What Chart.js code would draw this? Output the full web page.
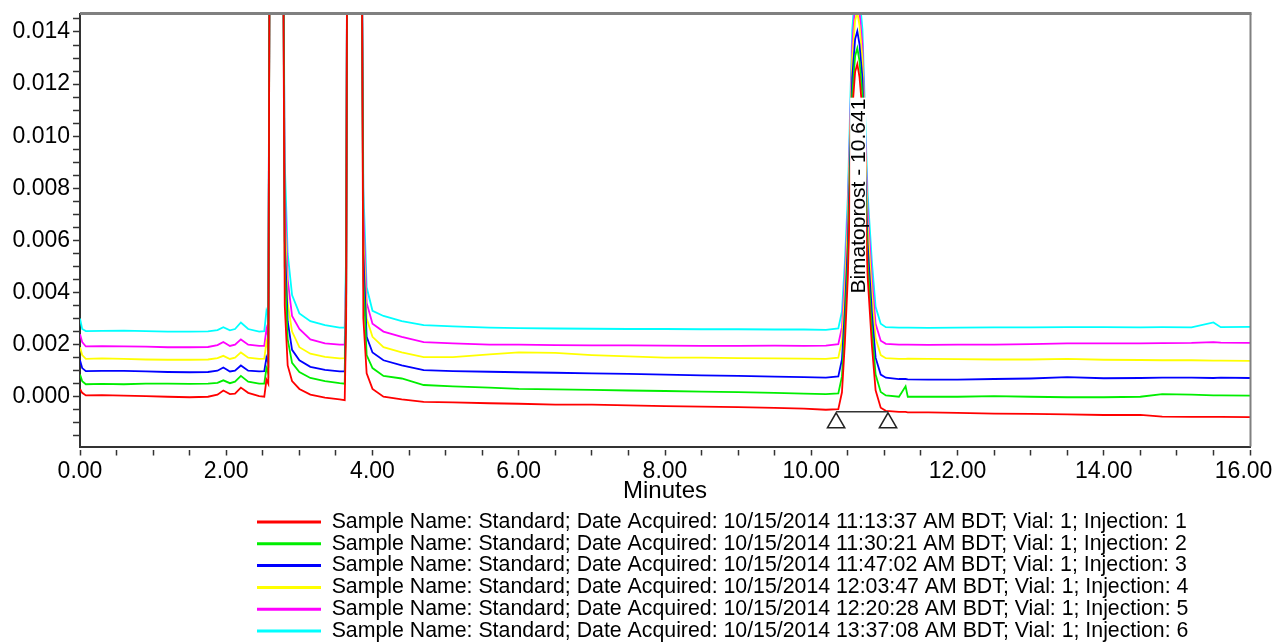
<!DOCTYPE html>
<html><head><meta charset="utf-8">
<script src="https://cdn.jsdelivr.net/npm/chart.js@4.4.1/dist/chart.umd.min.js"></script>
<style>html,body{margin:0;padding:0;background:#fff;}canvas{display:block;}</style>
</head><body>
<canvas id="c" width="1276" height="642"></canvas>
<script>
// ---------- data ----------
const times = [0.00,0.03,0.08,0.30,0.60,0.90,1.20,1.50,1.75,1.88,1.96,2.05,2.12,2.20,2.30,2.45,2.52,2.55,2.575,2.595,2.68,2.775,2.80,2.84,2.90,3.00,3.15,3.35,3.55,3.62,3.64,3.655,3.75,3.85,3.875,3.92,4.00,4.15,4.40,4.70,5.10,5.60,6.00,6.50,7.00,7.50,8.00,8.50,9.00,9.50,9.90,10.20,10.37,10.42,10.46,10.50,10.56,10.60,10.63,10.66,10.70,10.77,10.83,10.88,10.95,11.02,11.20,11.29,11.32,11.60,12.00,12.50,13.00,13.50,14.00,14.50,14.80,15.20,15.50,15.60,16.00];

const inj1 = [0.0003,0.00015,0.00005,0.00006,0.00004,0.00002,0.0,-0.00002,0.0,0.00008,0.00024,0.0001,0.00012,0.00035,0.00015,0.00002,0.0,0.00065,0.0005,0.02,0.1,0.02,0.0035,0.0012,0.0006,0.0003,0.00008,-0.00003,-0.0001,-0.00013,0.003,0.02,0.1,0.02,0.003,0.0009,0.0003,0.0,-0.0001,-0.0002,-0.00022,-0.00025,-0.00027,-0.0003,-0.0003,-0.00033,-0.00036,-0.00038,-0.0004,-0.00043,-0.00046,-0.0005,-0.00048,0.00017,0.00207,0.00457,0.01097,0.01247,0.01277,0.01227,0.01095,0.00465,0.00195,0.00025,-0.00042,-0.00054,-0.00058,-0.00058,-0.0006,-0.0006,-0.00062,-0.00065,-0.00066,-0.00068,-0.0007,-0.0007,-0.00076,-0.00077,-0.00077,-0.00077,-0.00078];
const inj2 = [0.00085,0.0006,0.00048,0.00049,0.00048,0.0005,0.0005,0.00049,0.0005,0.00053,0.00063,0.00052,0.00058,0.0008,0.00058,0.0005,0.0005,0.0011,0.0009,0.02,0.1,0.02,0.005,0.0022,0.0013,0.00095,0.00072,0.0006,0.00052,0.0005,0.0035,0.02,0.1,0.02,0.0045,0.0016,0.0011,0.0008,0.0007,0.00045,0.0004,0.00035,0.0003,0.00028,0.00026,0.00024,0.00022,0.0002,0.00018,0.00015,0.00012,0.0001,0.00013,0.00078,0.00268,0.00518,0.01158,0.01308,0.01338,0.01288,0.01157,0.00525,0.00255,0.00085,0.00018,0.00005,0.0,0.0004,0.0,0.0,0.0,0.00002,0.0,-0.00002,-0.00002,0.0,0.0001,0.00008,0.00005,0.00005,0.00004];
const inj3 = [0.0014,0.0011,0.00098,0.00099,0.00099,0.00097,0.00095,0.00094,0.00095,0.001,0.00112,0.00097,0.001,0.0012,0.001,0.00097,0.00098,0.0015,0.0013,0.02,0.1,0.02,0.006,0.0029,0.0018,0.0014,0.00115,0.00103,0.00097,0.00097,0.004,0.02,0.1,0.02,0.0055,0.0023,0.0017,0.0014,0.0012,0.00102,0.00098,0.00096,0.00094,0.00092,0.0009,0.00088,0.00085,0.00082,0.0008,0.00077,0.00075,0.00073,0.00078,0.00143,0.00333,0.00583,0.01223,0.01373,0.01403,0.01353,0.01222,0.0059,0.0032,0.0015,0.00085,0.00073,0.00068,0.00068,0.00067,0.00066,0.00066,0.00068,0.0007,0.00075,0.00071,0.00072,0.00073,0.00073,0.00072,0.00073,0.00072];
const inj4 = [0.0019,0.0016,0.00145,0.00147,0.00145,0.00143,0.00142,0.00142,0.00143,0.00148,0.00157,0.00145,0.0015,0.0017,0.0015,0.00145,0.00146,0.0021,0.0018,0.02,0.1,0.02,0.007,0.0036,0.0025,0.0019,0.00165,0.00153,0.00147,0.00148,0.0045,0.02,0.1,0.02,0.0062,0.003,0.0023,0.0019,0.0017,0.00152,0.00152,0.00163,0.0017,0.00168,0.0016,0.00155,0.0015,0.0015,0.00148,0.00147,0.00146,0.00145,0.0015,0.00215,0.00405,0.00655,0.01295,0.01445,0.01475,0.01425,0.01295,0.00665,0.00395,0.00225,0.0016,0.00148,0.00145,0.00145,0.00146,0.00145,0.00144,0.00143,0.00143,0.00145,0.00142,0.00141,0.0014,0.0014,0.00139,0.00139,0.00138];
const inj5 = [0.0024,0.0021,0.00193,0.00194,0.00193,0.00192,0.0019,0.0019,0.00191,0.00198,0.0021,0.00195,0.002,0.0022,0.002,0.00195,0.00195,0.0026,0.0023,0.02,0.1,0.02,0.008,0.0045,0.0031,0.0026,0.0022,0.00205,0.002,0.002,0.005,0.02,0.1,0.02,0.007,0.0036,0.0028,0.0025,0.0023,0.0021,0.00205,0.002,0.002,0.00198,0.00197,0.00197,0.00196,0.00195,0.00195,0.00196,0.00195,0.00196,0.00202,0.00267,0.00457,0.00707,0.01347,0.01497,0.01527,0.01478,0.01348,0.0072,0.0045,0.0028,0.00215,0.00203,0.002,0.002,0.002,0.00199,0.002,0.002,0.00202,0.00205,0.00205,0.00205,0.00206,0.00207,0.0021,0.00208,0.00207];
const inj6 = [0.003,0.0026,0.00252,0.00253,0.00254,0.00252,0.0025,0.0025,0.00251,0.00256,0.00267,0.00255,0.0026,0.00285,0.0026,0.0025,0.00252,0.0033,0.0031,0.02,0.1,0.02,0.009,0.0055,0.0039,0.0032,0.0029,0.00275,0.00265,0.00265,0.0056,0.02,0.1,0.02,0.008,0.0042,0.0033,0.0031,0.0029,0.00275,0.0027,0.00265,0.00263,0.00262,0.00261,0.0026,0.0026,0.00259,0.00259,0.00258,0.00258,0.00257,0.00262,0.00327,0.00517,0.00767,0.01407,0.01557,0.01587,0.01538,0.0141,0.00785,0.00515,0.00345,0.0028,0.00267,0.00265,0.00265,0.00265,0.00264,0.00265,0.00266,0.00266,0.00267,0.00267,0.00266,0.00267,0.00266,0.00285,0.00267,0.00268];

const seriesNames = [
  'Sample Name: Standard; Date Acquired: 10/15/2014 11:13:37 AM BDT; Vial: 1; Injection: 1',
  'Sample Name: Standard; Date Acquired: 10/15/2014 11:30:21 AM BDT; Vial: 1; Injection: 2',
  'Sample Name: Standard; Date Acquired: 10/15/2014 11:47:02 AM BDT; Vial: 1; Injection: 3',
  'Sample Name: Standard; Date Acquired: 10/15/2014 12:03:47 AM BDT; Vial: 1; Injection: 4',
  'Sample Name: Standard; Date Acquired: 10/15/2014 12:20:28 AM BDT; Vial: 1; Injection: 5',
  'Sample Name: Standard; Date Acquired: 10/15/2014 13:37:08 AM BDT; Vial: 1; Injection: 6'
];
const seriesValues = [inj1, inj2, inj3, inj4, inj5, inj6];
const seriesColors = ['#ff0000', '#00ee00', '#0000ff', '#ffff00', '#ff00ff', '#00ffff'];

// integration markers of the Bimatoprost peak
const markerTimes = [10.34, 11.05];
const markerValues = [-0.001, -0.001];
const baselineValues = [-0.00058, -0.00058];
const peakLabel = 'Bimatoprost - 10.641';
const peakLabelTime = 10.641;
const peakLabelValue = 0.0077;

// axis ticks
const xTickValues = [0,0.5,1,1.5,2,2.5,3,3.5,4,4.5,5,5.5,6,6.5,7,7.5,8,8.5,9,9.5,10,10.5,11,11.5,12,12.5,13,13.5,14,14.5,15,15.5,16];
const xMajorTicks = [0,2,4,6,8,10,12,14,16];
const yTickValues = [-0.0015,-0.001,-0.0005,0,0.0005,0.001,0.0015,0.002,0.0025,0.003,0.0035,0.004,0.0045,0.005,0.0055,0.006,0.0065,0.007,0.0075,0.008,0.0085,0.009,0.0095,0.01,0.0105,0.011,0.0115,0.012,0.0125,0.013,0.0135,0.014,0.0145];
const yMajorTicks = [0,0.002,0.004,0.006,0.008,0.01,0.012,0.014];

// ---------- chart ----------
const FONT = '"Liberation Sans", Arial, Helvetica, sans-serif';
Chart.defaults.font.family = FONT;
Chart.defaults.color = '#000';

const datasets = seriesValues.map((vals, i) => ({
  label: seriesNames[i],
  data: times.map((t, k) => ({x: t, y: vals[k]})),
  borderColor: seriesColors[i],
  backgroundColor: seriesColors[i],
  borderWidth: 1.8,
  pointRadius: 0,
  tension: 0,
  fill: false
}));
datasets.push({
  label: 'baseline',
  data: markerTimes.map((t, k) => ({x: t, y: baselineValues[k]})),
  borderColor: '#333', borderWidth: 1.5, pointRadius: 0, order: -1, fill: false
});
datasets.push({
  label: 'markers',
  data: markerTimes.map((t, k) => ({x: t, y: markerValues[k]})),
  showLine: false, pointStyle: 'triangle', pointRadius: 10,
  pointBackgroundColor: '#fff', pointBorderColor: '#222', pointBorderWidth: 1.5,
  order: -2, clip: false
});

const framePlugin = {
  id: 'frame',
  afterLayout(chart) {
    const lg = chart.legend;
    if (lg) { const w = lg.right - lg.left; lg.left = 256.5; lg.right = lg.left + w; }
  },
  afterDatasetsDraw(chart) {
    const {ctx, scales} = chart;
    const x = scales.x.getPixelForValue(peakLabelTime);
    const y = scales.y.getPixelForValue(peakLabelValue);
    ctx.save();
    ctx.translate(x, y);
    ctx.rotate(-Math.PI / 2);
    ctx.font = '21px ' + FONT;
    const w = ctx.measureText(peakLabel).width;
    ctx.fillStyle = '#fff';
    ctx.fillRect(-w / 2 - 1, -8, w + 2, 16);
    ctx.fillStyle = '#000';
    ctx.textAlign = 'center';
    ctx.textBaseline = 'middle';
    ctx.fillText(peakLabel, 0, 1);
    ctx.restore();
  },
  afterDraw(chart) {
    const {ctx, chartArea: a} = chart;
    ctx.save();
    ctx.strokeStyle = '#808080';
    ctx.lineWidth = 3;
    ctx.beginPath(); ctx.moveTo(a.left, a.top); ctx.lineTo(a.right + 1.5, a.top); ctx.stroke();
    ctx.lineWidth = 2;
    ctx.beginPath(); ctx.moveTo(a.right + 0.5, a.top); ctx.lineTo(a.right + 0.5, a.bottom); ctx.stroke();
    ctx.restore();
  }
};

new Chart(document.getElementById('c'), {
  type: 'line',
  data: {datasets},
  plugins: [framePlugin],
  options: {
    responsive: false,
    animation: false,
    devicePixelRatio: 1,
    layout: {padding: {top: 13.5, right: 26, bottom: -9.65, left: 0}},
    scales: {
      x: {
        type: 'linear', position: 'bottom', min: 0, max: 16,
        afterBuildTicks: s => { s.ticks = xTickValues.map(v => ({value: v})); },
        afterFit: s => { s.height = 64.35; s.paddingLeft = 0; s.paddingRight = 0; },
        ticks: {
          autoSkip: false, maxRotation: 0, minRotation: 0, padding: 2.2,
          font: {size: 23}, color: '#000',
          callback: (v, i, arr) => {
            if (!xMajorTicks.some(m => Math.abs(m - v) < 1e-9)) return '';
            const s = Number(v).toFixed(2);
            return i === arr.length - 1 ? s + '  ' : s;
          }
        },
        grid: {drawOnChartArea: false, drawTicks: true, tickLength: 9, tickColor: '#333', tickWidth: 1.5, tickBorderDash: [0, 2, 7, 100]},
        border: {display: true, color: '#333', width: 2},
        title: {display: true, text: 'Minutes', font: {size: 24}, color: '#000', padding: {top: 0, bottom: 5.4}}
      },
      y: {
        type: 'linear', min: -0.00191, max: 0.01471,
        afterBuildTicks: s => { s.ticks = yTickValues.map(v => ({value: v})); },
        afterFit: s => { s.width = 80; s.paddingTop = 0; s.paddingBottom = 0; },
        ticks: {
          autoSkip: false, padding: 3, font: {size: 23}, color: '#000',
          callback: v => yMajorTicks.some(m => Math.abs(m - v) < 1e-9) ? Number(v).toFixed(3) : ''
        },
        grid: {drawOnChartArea: false, drawTicks: true, tickLength: 7, tickColor: '#333', tickWidth: 1.5},
        border: {display: true, color: '#333', width: 2}
      }
    },
    plugins: {
      tooltip: {enabled: false},
      legend: {
        position: 'bottom', align: 'start',
        labels: {
          boxWidth: 64, boxHeight: 3, padding: 0.5, font: {size: 21.3}, color: '#000',
          generateLabels: chart => chart.data.datasets.map((d, i) => ({
            text: d.label, fillStyle: d.borderColor, strokeStyle: d.borderColor,
            lineWidth: 0, hidden: false, datasetIndex: i, fontColor: '#000'
          })),
          filter: item => item.datasetIndex < seriesNames.length
        }
      }
    }
  }
});
</script>
</body></html>
